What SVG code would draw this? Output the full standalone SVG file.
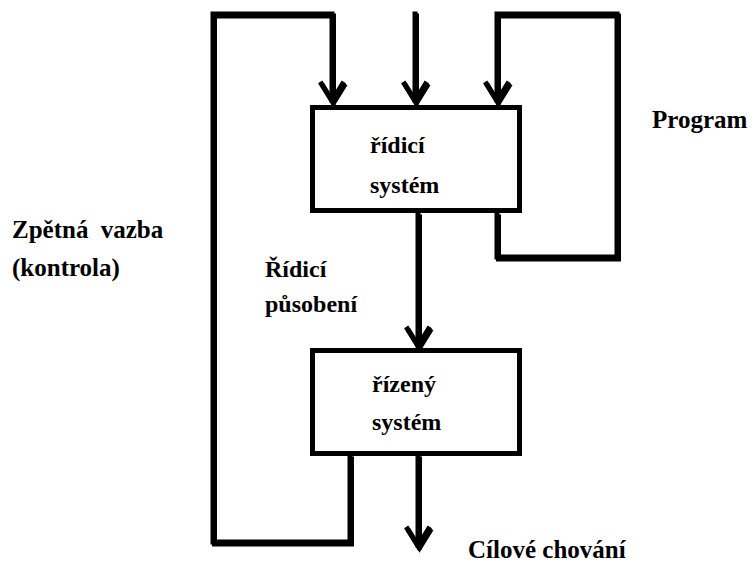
<svg xmlns="http://www.w3.org/2000/svg" xmlns:xlink="http://www.w3.org/1999/xlink" width="756" height="565" viewBox="0 0 756 565">
  <style>
    .ln { fill: none; stroke: currentColor; stroke-width: 5; stroke-linejoin: miter; stroke-linecap: square; }
    .box { fill: #fff; stroke: #000; stroke-width: 5; }
    .shade { color: #9a9a9a; }
    .lbl { font-family: 'Liberation Serif', 'Times New Roman', serif; font-weight: bold; font-size: 24px; fill: #000; }
    .big { font-size: 25px; }
  </style>

  <rect width="756" height="565" fill="#fff"/>

  <!-- soft grey copy of the connectors, offset down-right -->
  <use href="#connectors" xlink:href="#connectors" class="shade" transform="translate(1.5,2)"/>

  <!-- connectors -->
  <g id="connectors" color="#000">
    <!-- feedback loop: out of the controlled system back into the controller -->
    <path class="ln" d="M350,457 V542 H213 V14 H332 V100"/>
    <!-- external input from above -->
    <path class="ln" d="M415,14 V100"/>
    <!-- program loop on the right -->
    <path class="ln" d="M497,215 V257 H617 V14 H497 V100"/>
    <!-- control action between the two systems -->
    <path class="ln" d="M418,215 V345"/>
    <!-- goal behaviour output -->
    <path class="ln" d="M418,457 V545"/>
    <!-- arrowheads -->
    <polyline class="ln" points="321.5,84 332,101 342.5,84"/>
    <polyline class="ln" points="404.5,84 415,101 425.5,84"/>
    <polyline class="ln" points="486.5,84 497,101 507.5,84"/>
    <polyline class="ln" points="407.5,329 418,346 428.5,329"/>
    <polyline class="ln" points="407.5,529 418,546 428.5,529"/>
  </g>

  <!-- controlling system -->
  <g id="ridici-system">
    <rect class="box" x="312.5" y="107.5" width="207" height="103"/>
    <text class="lbl" x="370" y="153">řídicí</text>
    <text class="lbl" x="370" y="193">systém</text>
  </g>

  <!-- controlled system -->
  <g id="rizeny-system">
    <rect class="box" x="312.5" y="350.5" width="207" height="103"/>
    <text class="lbl" x="372" y="392">řízený</text>
    <text class="lbl" x="372" y="430">systém</text>
  </g>

  <!-- free labels -->
  <g id="labels">
    <text class="lbl big" x="652" y="128">Program</text>
    <text class="lbl big" x="12" y="238">Zpětná <tspan dx="6">vazba</tspan></text>
    <text class="lbl big" x="12" y="276">(kontrola)</text>
    <text class="lbl" x="265" y="277">Řídicí</text>
    <text class="lbl" x="265" y="312">působení</text>
    <text class="lbl big" x="468" y="558">Cílové chování</text>
  </g>
</svg>
